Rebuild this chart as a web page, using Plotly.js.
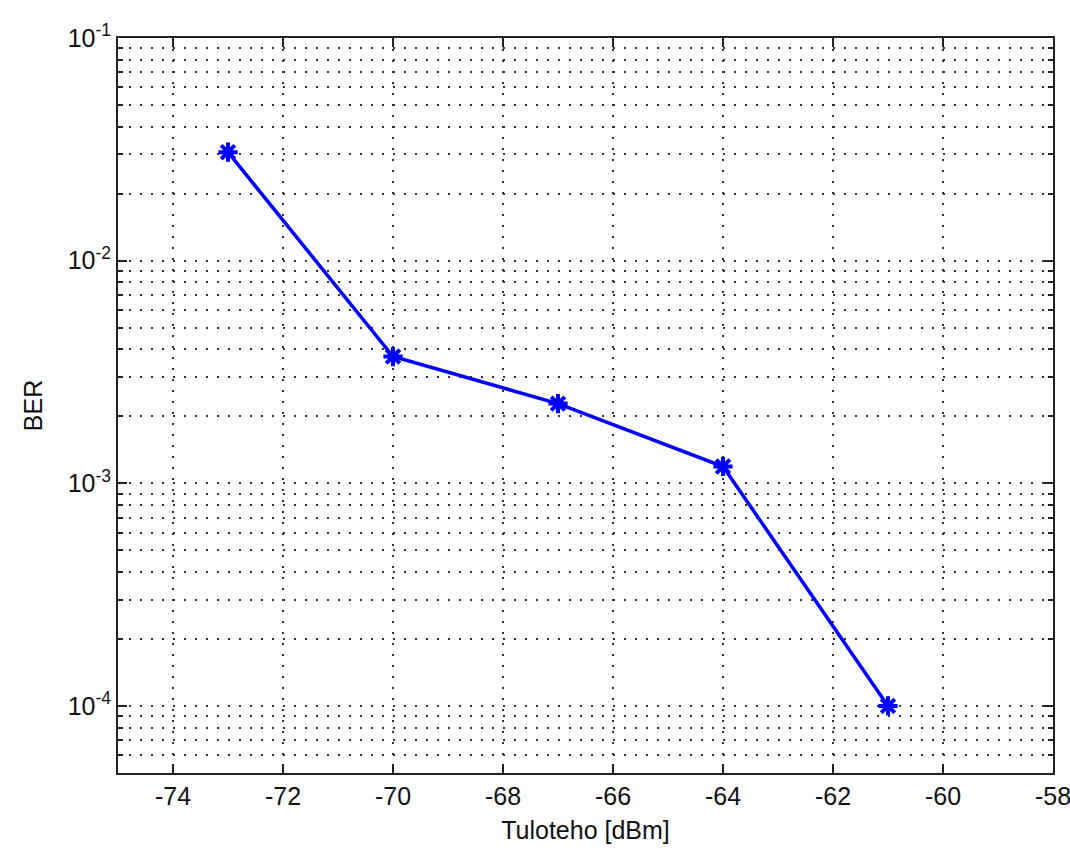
<!DOCTYPE html>
<html>
<head>
<meta charset="utf-8">
<script src="https://cdn.plot.ly/plotly-3.0.1.min.js"></script>
<style>html,body{margin:0;padding:0;background:#fff;}#plot{width:1070px;height:852px;}</style>
</head>
<body>
<div id="plot"></div>
<script>
const power = [-73, -70, -67, -64, -61];
const ber = [0.0307, 0.00371, 0.00228, 0.00119, 0.0001];
const xTicks = [-74, -72, -70, -68, -66, -64, -62, -60, -58];
const xTickText = ['-74', '-72', '-70', '-68', '-66', '-64', '-62', '-60', '-58'];
const yTickVals = [1e-4, 1e-3, 1e-2, 1e-1];
const yTickText = ['10<sup>-4</sup>', '10<sup>-3</sup>', '10<sup>-2</sup>', '10<sup>-1</sup>'];

const font = {family: 'Liberation Sans, Arial, sans-serif', size: 25, color: '#111'};
const gridDash = '2px,9px';

const trace = {
  x: power, y: ber, type: 'scatter', mode: 'lines+markers',
  line: {color: '#0000ff', width: 3.5},
  marker: {symbol: 'asterisk-open', size: 16, color: '#0000ff', line: {color: '#0000ff', width: 4}},
  showlegend: false, hoverinfo: 'skip'
};

const layout = {
  width: 1070, height: 852,
  margin: {l: 118, r: 17, t: 38, b: 79},
  paper_bgcolor: '#fff', plot_bgcolor: '#fff',
  font: font,
  xaxis: {
    range: [-75, -58], tickmode: 'array', tickvals: xTicks, ticktext: xTickText,
    ticklabeloverflow: 'allow',
    ticks: 'inside', ticklen: 9, tickwidth: 2, tickcolor: '#222',
    showline: true, linecolor: '#222', linewidth: 2, mirror: 'ticks',
    showgrid: true, gridcolor: '#333', griddash: gridDash, gridwidth: 2,
    zeroline: false, tickfont: font,
    title: {text: 'Tuloteho [dBm]', font: font, standoff: 12}
  },
  yaxis: {
    type: 'log', range: [Math.log10(5e-5), -1],
    tickmode: 'array', tickvals: yTickVals, ticktext: yTickText,
    ticklabeloverflow: 'allow',
    ticks: 'inside', ticklen: 9, tickwidth: 2, tickcolor: '#222',
    showline: true, linecolor: '#222', linewidth: 2, mirror: 'ticks',
    showgrid: true, gridcolor: '#333', griddash: gridDash, gridwidth: 2,
    zeroline: false, tickfont: font,
    minor: {dtick: 'D1', ticks: 'inside', ticklen: 5, tickwidth: 2, tickcolor: '#222',
            showgrid: true, gridcolor: '#333', griddash: gridDash, gridwidth: 2},
    title: {text: 'BER', font: font, standoff: 18}
  }
};

Plotly.newPlot('plot', [trace], layout, {staticPlot: true});
</script>
</body>
</html>
